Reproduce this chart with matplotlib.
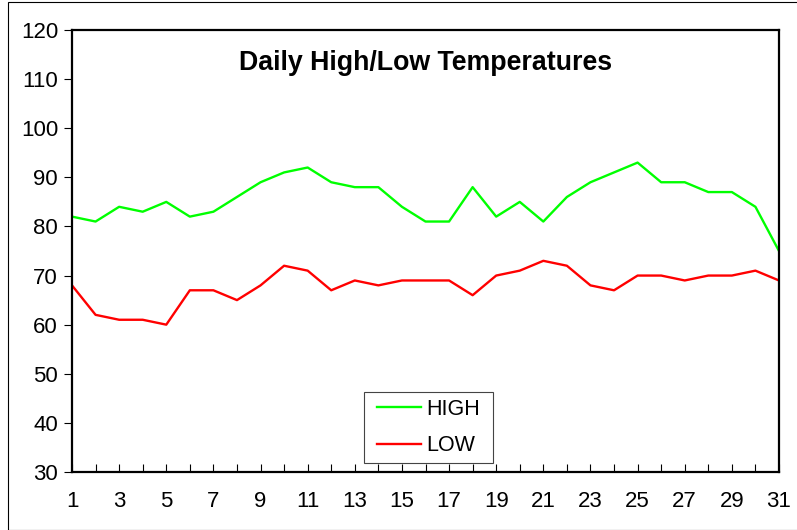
import matplotlib
matplotlib.use("Agg")
import matplotlib.pyplot as plt
from matplotlib.patches import Rectangle

days = list(range(1, 32))
high = [82, 81, 84, 83, 85, 82, 83, 86, 89, 91, 92, 89, 88, 88, 84, 81,
        81, 88, 82, 85, 81, 86, 89, 91, 93, 89, 89, 87, 87, 84, 75]
low = [68, 62, 61, 61, 60, 67, 67, 65, 68, 72, 71, 67, 69, 68, 69, 69,
       69, 66, 70, 71, 73, 72, 68, 67, 70, 70, 69, 70, 70, 71, 69]
yticks = list(range(30, 121, 10))

plt.rcParams['font.family'] = ['Liberation Sans', 'DejaVu Sans']

W, H = 797, 530
L, R, T, B = 72, 779, 30, 472
fig = plt.figure(figsize=(W / 100, H / 100), dpi=100)
ax = fig.add_axes([L / W, 1 - B / H, (R - L) / W, (B - T) / H])

# outer frame
fig.patches.append(Rectangle((8 / W, 0), 1.0, 1 - 2 / H, transform=fig.transFigure,
                             fill=False, edgecolor='black', linewidth=0.8))

ax.plot(days, high, color='#00FF00', linewidth=1.7, label='HIGH')
ax.plot(days, low, color='#FF0000', linewidth=1.7, label='LOW')

ax.set_xlim(1, 31)
ax.set_ylim(30, 120)
ax.set_yticks(yticks)
ax.set_xticks(days)
ax.set_xticklabels([str(d) if d % 2 == 1 else '' for d in days])

for s in ax.spines.values():
    s.set_linewidth(1.6)
    s.set_color('black')

ax.tick_params(axis='x', direction='in', length=6, width=0.8, labelsize=16, pad=14)
ax.tick_params(axis='y', direction='out', length=6, width=0.8, labelsize=16, pad=4)

ax.text(0.5, 0.925, 'Daily High/Low Temperatures', transform=ax.transAxes,
        ha='center', va='center', fontsize=19.3, fontweight='bold')

# legend box (pixels): x 364-493, y 392-463
bx0, bx1, by0, by1 = 364, 493, 392, 463
ax_x = lambda px: (px - L) / (R - L)
ax_y = lambda py: (B - py) / (B - T)
ax.add_patch(Rectangle((ax_x(bx0), ax_y(by1)), ax_x(bx1) - ax_x(bx0), ax_y(by0) - ax_y(by1),
                       transform=ax.transAxes, facecolor='white', edgecolor='#444444',
                       linewidth=0.8, zorder=4))
leg = ax.legend(loc='center', bbox_to_anchor=(ax_x((bx0 + bx1) / 2), ax_y((by0 + by1) / 2)),
                frameon=False, fontsize=15.5, handlelength=2.05, handletextpad=0.23,
                borderaxespad=0, labelspacing=0.7, borderpad=0.3)
leg.set_zorder(5)

fig.savefig('out.png', dpi=100)
